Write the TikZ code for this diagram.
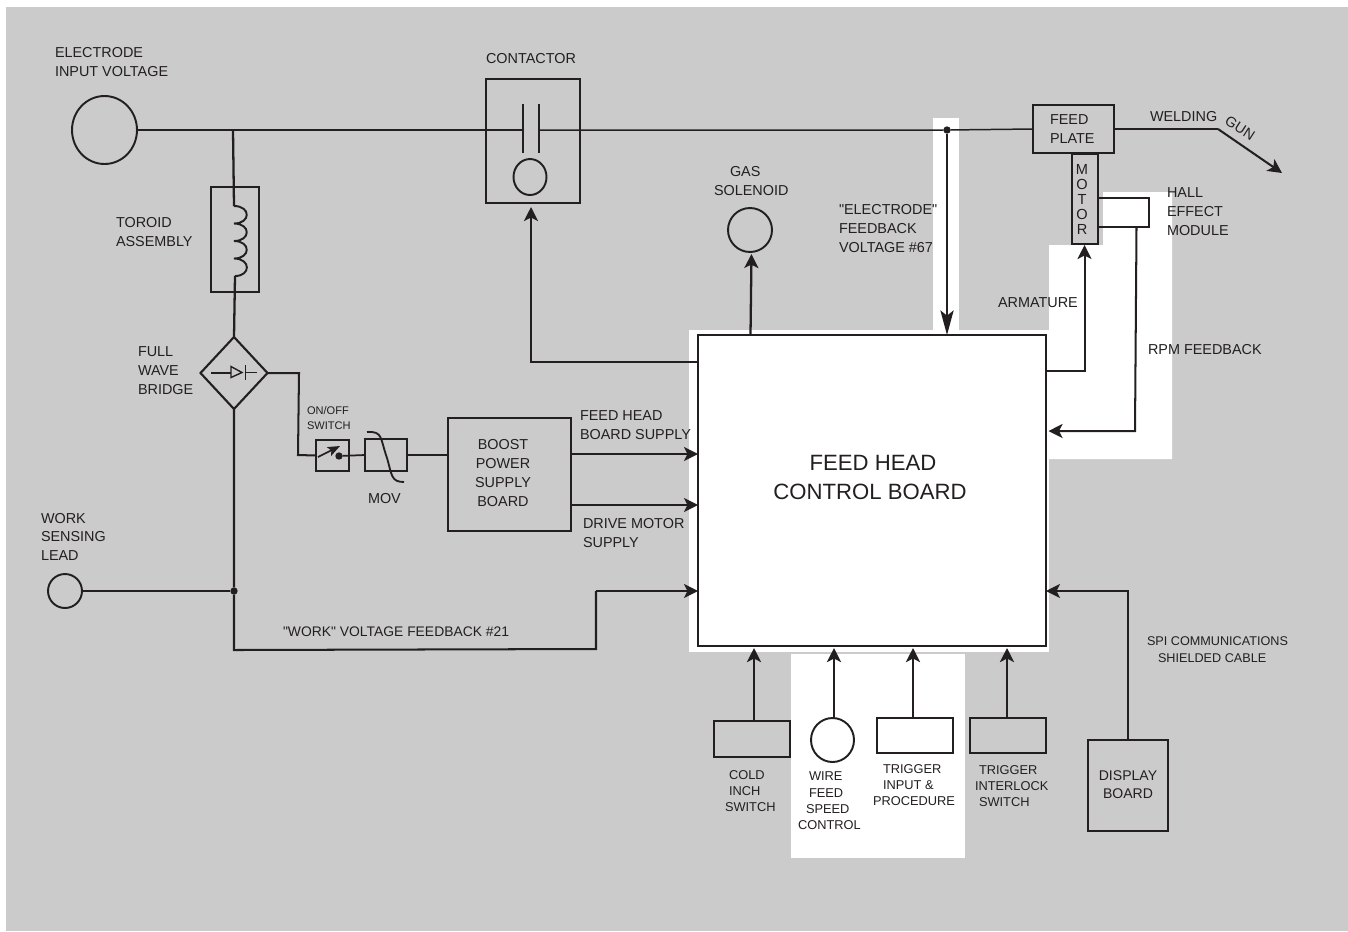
\documentclass[tikz,border=0pt]{standalone}
\usepackage{fontspec}
\setmainfont{Liberation Sans}
\newfontfamily\quotefont[Ligatures=NoCommon]{Liberation Sans}
\usetikzlibrary{arrows.meta,shapes.geometric}
\definecolor{panel}{HTML}{CBCBCB}
\definecolor{ink}{HTML}{231F20}
\newlength{\pxu}
\setlength{\pxu}{0.56905pt}
\newcommand{\sk}[1]{\hspace*{#1\pxu}}
\newcommand{\fs}[2]{\fontsize{#1}{#2}\selectfont}
\newcommand{\dq}{{\quotefont"}}
\tikzset{
  sz/.style 2 args={minimum width=#1*0.56905pt,minimum height=#2*0.56905pt},
  part/.style={draw=ink,line width=1.35pt,inner sep=0pt,outer sep=0pt},
  thinpart/.style={draw=ink,line width=1.05pt,inner sep=0pt,outer sep=0pt},
  oval/.style={ellipse,draw=ink,line width=1.1pt,inner sep=0pt,outer sep=0pt},
  wire/.style={draw=ink,line width=.85pt},
  bus/.style={draw=ink,line width=1.3pt},
  feed/.style={bus,-{Stealth[length=8pt,width=8pt,inset=2pt]}},
  lbl/.style={anchor=north west,inner sep=0pt,outer sep=0pt,align=left,text=ink,yshift=-0.6pt,font=\fs{8.2}{10.8}},
  ctr/.style={anchor=north,inner sep=0pt,outer sep=0pt,align=center,text=ink,yshift=-0.6pt,font=\fs{8.2}{10.8}},
  sml/.style={lbl,font=\fs{7.3}{9.2}},
  dotn/.style={circle,fill=ink,inner sep=0pt,outer sep=0pt,minimum size=4.2pt},
}
\begin{document}
\begin{tikzpicture}[x=0.02cm,y=-0.02cm]
\useasboundingbox (0,0) rectangle (1348,931);
\fill[white] (0,0) rectangle (1348,931);
\fill[panel] (6,7) rectangle (1348,931);
% white patches
\fill[white] (689,330) rectangle (1049,652);
\fill[white] (933,118) rectangle (959,331);
\fill[white] (1049,245) -- (1103,245) -- (1103,192) -- (1172,192) -- (1172,459) -- (1049,459) -- cycle;
\fill[white] (791,654) rectangle (965,858);

% parts
\node[part,sz={348}{311}] (main) at (872,490.5) {};
\node[oval,sz={65}{68}] (elec) at (104.5,130) {};
\node[oval,sz={34}{34}] (work) at (65,591) {};
\node[thinpart,sz={48}{105}] (toroid) at (235,239.5) {};
\node[diamond,part,line width=1.2pt,sz={67}{72}] (bridge) at (234,373) {};
\node[part,line width=1.2pt,sz={33}{31}] (switch) at (332.5,455.5) {};
\node[part,line width=1.2pt,sz={42}{32}] (mov) at (386,455) {};
\node[thinpart,sz={123}{113}] (boost) at (509.5,474.5) {};
\node[thinpart,sz={94}{124}] (contactor) at (533,141) {};
\node[oval,sz={33}{36}] (coil) at (530,177) {};
\node[oval,sz={44}{44}] (gas) at (750,230) {};
\node[part,sz={81}{48}] (plate) at (1073.5,129) {};
\node[part,sz={26}{90}] (motor) at (1085,199) {};
\node[part,line width=1.1pt,sz={51}{29}] (hall) at (1123.5,212.5) {};
\node[part,line width=1.2pt,sz={76}{36}] (cold) at (752,739) {};
\node[oval,sz={43}{44}] (wfs) at (832.5,740) {};
\node[part,line width=1.2pt,sz={76}{35}] (trig) at (915,735.5) {};
\node[part,line width=1.2pt,sz={76}{35}] (lock) at (1008,735.5) {};
\node[part,line width=1.2pt,sz={80}{91}] (disp) at (1128,785.5) {};

% contactor plates and coil lead
\coordinate (pl) at (522.7,130);
\coordinate (pr) at (539.3,130);
\draw[wire,line width=1pt] (522.7,104) -- (522.7,153);
\draw[wire,line width=1pt] (539.3,104) -- (539.3,153);

% top line
\coordinate (tee) at (233,130);
\node[dotn] (efb) at (947,130) {};
\draw[wire] (elec.east) -- (tee) -- (pl);
\draw[wire] (pr) -- (efb) -- (plate.west);
\coordinate (bend) at (1218,129);
\coordinate (guntip) at (1282,173);
\draw[wire,line width=1pt] (plate.east) -- (bend);
\draw[feed,line width=1.15pt] (bend) -- (guntip);

% toroid
\coordinate (ct) at (234,206);
\coordinate (cb) at (235,276);
\draw[bus] (tee) -- (ct);
\draw[bus,line width=1.1pt]
  (ct) .. controls (251,206) and (251,223.5) .. (234,223.5)
  .. controls (251,223.5) and (251,241) .. (234,241)
  .. controls (251,241) and (251,258.5) .. (234,258.5)
  .. controls (251,258.5) and (251,276) .. (cb);
\draw[bus] (cb) -- (bridge.north);

% diode symbol
\draw[wire,line width=.8pt] (211,373) -- (231,373);
\draw[wire,line width=.8pt] (231,366.5) -- (242,372.5) -- (231,377.5) -- cycle;
\draw[wire,line width=1.1pt] (245.5,365) -- (245.5,380);
\draw[wire,line width=.8pt] (245.5,372.5) -- (257,372.5);

% bridge to switch, MOV, boost
\coordinate (b1) at (299,373);
\coordinate (b2) at (298,455);
\draw[wire,line width=1.15pt] (bridge.east) -- (b1) -- (b2) -- (switch.west);
\node[dotn] (sdot) at (339,456) {};
\draw[bus,line width=1pt,-{Stealth[length=7pt,width=5.5pt,inset=1.5pt]}] (318,457) -- (340,446);
\draw[wire,line width=1pt] (sdot) -- (mov.west);
\draw[wire,line width=1pt] (mov.east) -- (boost.west |- mov.east);
\draw[wire,line width=1.05pt] (367,432) .. controls (383,431) and (380,438) .. (387,458)
  .. controls (392,475) and (391,482) .. (404,482);

% work lead
\node[dotn] (wdot) at (234,591) {};
\coordinate (w1) at (234,650);
\coordinate (w2) at (596,649);
\coordinate (w3) at (596,591);
\draw[wire,line width=1.15pt] (bridge.south) -- (wdot) -- (w1) -- (w2) -- (w3);
\draw[feed,line width=1.15pt] (w3) -- (main.west |- w3);
\draw[wire,line width=1.15pt] (work.east) -- (wdot);

% supplies
\coordinate (s1) at (600,454);
\coordinate (s2) at (600,505);
\draw[feed,line width=1.1pt] (boost.east |- s1) -- (main.west |- s1);
\draw[feed,line width=1.1pt] (boost.east |- s2) -- (main.west |- s2);

% contactor drive, gas
\coordinate (c1) at (531,361.5);
\coordinate (c2) at (531,207);
\draw[feed,line width=1.15pt] (main.west |- c1) -- (c1) -- (c2);
\coordinate (g1) at (750.5,335);
\coordinate (g2) at (751.5,254);
\draw[feed] (g1) -- (g2);
\draw[bus,-{Stealth[length=14pt,width=7.5pt,inset=3pt]}] (efb) -- (efb |- main.north);

% armature, rpm
\coordinate (a1) at (1084.5,371);
\coordinate (a2) at (1084.5,245);
\draw[feed,line width=1.15pt] (main.east |- a1) -- (a1) -- (a2);
\coordinate (r1) at (1136.5,227);
\coordinate (r2) at (1135,431);
\coordinate (r3) at (1048.5,431);
\draw[feed,line width=1.15pt] (r1) -- (r2) -- (r3);

% display
\coordinate (d1) at (1128,591);
\draw[feed,line width=1.15pt] (disp.north) -- (d1) -- (main.east |- d1);

% inputs
\coordinate (i0) at (800,648);
\coordinate (i1) at (754,721);
\coordinate (i2) at (834,718);
\coordinate (i3) at (913,718);
\coordinate (i4) at (1007,718);
\draw[feed] (i1) -- (i1 |- i0);
\draw[feed] (i2) -- (i2 |- i0);
\draw[feed] (i3) -- (i3 |- i0);
\draw[feed] (i4) -- (i4 |- i0);

% labels
\node[lbl] (telec) at (55,46) {ELECTRODE\\INPUT VOLTAGE};
\node[lbl] (ttor) at (116,216.5) {TOROID\\ASSEMBLY};
\node[lbl] (tcon) at (486,52) {CONTACTOR};
\node[lbl] (tgas) at (714,165) {\sk{16}GAS\\SOLENOID};
\node[lbl] (tefb) at (839,203) {\dq ELECTRODE\dq\\FEEDBACK\\VOLTAGE \#67};
\node[lbl] (tplate) at (1050,114) {FEED\\PLATE};
\node[lbl] (tweld) at (1150,110) {WELDING};
\node[text=ink,inner sep=0pt,rotate=-33,font=\fs{8.2}{10.8}] (tgun) at (1240,128) {GUN};
\node[ctr,font=\fs{8.3}{8.55}] (tmot) at (1082,163) {M\\O\\T\\O\\R};
\node[lbl] (thall) at (1167,187) {HALL\\EFFECT\\MODULE};
\node[lbl] (tarm) at (998,297) {ARMATURE};
\node[lbl] (trpm) at (1148,343) {RPM FEEDBACK};
\node[ctr,font=\fs{12.6}{16.6}] (tmain) at (870,454) {\sk{6}FEED HEAD\\CONTROL BOARD};
\node[lbl] (tbr) at (138,346) {FULL\\WAVE\\BRIDGE};
\node[lbl,font=\fs{6.3}{8.6}] (tsw) at (307,405) {ON/OFF\\SWITCH};
\node[lbl] (tmov) at (368,492) {MOV};
\node[ctr] (tboost) at (503,438) {BOOST\\POWER\\SUPPLY\\BOARD};
\node[lbl] (tfh) at (580,410) {FEED HEAD\\BOARD SUPPLY};
\node[lbl] (tdm) at (583,517) {DRIVE MOTOR\\SUPPLY};
\node[lbl,font=\fs{8.2}{10.5}] (twk) at (41,512) {WORK\\SENSING\\LEAD};
\node[lbl,font=\fs{7.9}{10}] (twv) at (283,626) {\dq WORK\dq{} VOLTAGE FEEDBACK \#21};
\node[lbl,font=\fs{7.2}{9.7}] (tspi) at (1147,636) {SPI COMMUNICATIONS\\\sk{11}SHIELDED CABLE};
\node[ctr,font=\fs{8}{10.2}] (tdisp) at (1128,770) {DISPLAY\\BOARD};
\node[sml] (tcold) at (725,769) {\sk{4}COLD\\\sk{4}INCH\\SWITCH};
\node[sml] (twfs) at (798,771) {\sk{11}WIRE\\\sk{11}FEED\\\sk{8}SPEED\\CONTROL};
\node[sml] (ttrg) at (873,763) {\sk{10}TRIGGER\\\sk{10}INPUT \&\\PROCEDURE};
\node[sml] (tlock) at (975,764) {\sk{4}TRIGGER\\INTERLOCK\\\sk{4}SWITCH};
\end{tikzpicture}
\end{document}
